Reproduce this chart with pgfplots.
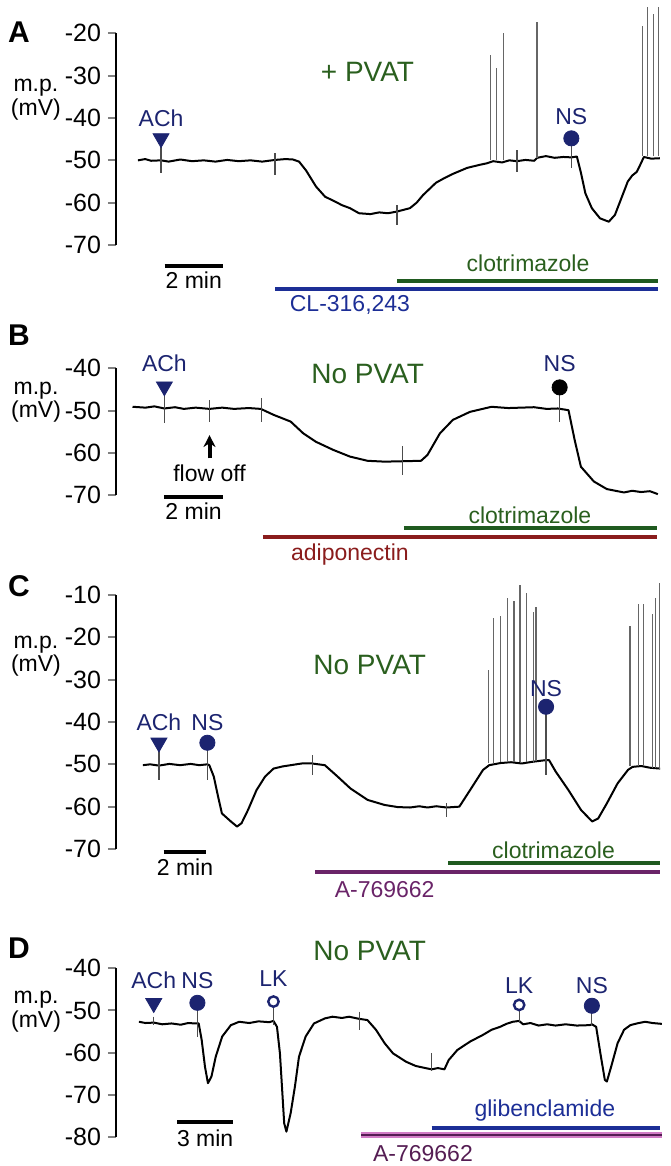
\documentclass[border=0pt]{standalone}
\usepackage{fontspec}
\setmainfont{Liberation Sans}
\usepackage{pgfplots}
\pgfplotsset{compat=1.18}
\usetikzlibrary{arrows.meta}
\definecolor{navy}{HTML}{1C2470}
\definecolor{txtgreen}{HTML}{2A5F1E}
\definecolor{bargreen}{HTML}{1F5A1F}
\definecolor{barblue}{HTML}{1C2E96}
\definecolor{barred}{HTML}{8A1C1C}
\definecolor{barpurple}{HTML}{6A2468}
\definecolor{barpink}{HTML}{D27CC6}
\newcommand\lab{\fontsize{11.5}{12}\selectfont}
\newcommand\ttl{\fontsize{14}{15}\selectfont}
\newcommand\pan{\fontsize{15}{16}\selectfont\bfseries}
\tikzset{mp/.style={font=\fontsize{11.5}{10.5}\selectfont, align=center}}
\pgfplotsset{
  trace/.style={scale only axis, width=273pt, xmin=0, clip=false,
    axis x line=none, axis y line=left, y axis line style={-, line width=1pt},
    ytick pos=left, tick align=outside, major tick length=4pt,
    ytick style={line width=1pt}, tick label style={font=\fontsize{12.5}{13}\selectfont},
    /pgf/number format/assume math mode=true, anchor=south west},
  tr/.style={black, line width=1pt, line join=round},
  sp/.style={black!60, line width=0.65pt, unbounded coords=jump},
  art/.style={black!70, line width=0.6pt, unbounded coords=jump},
  ach/.style={only marks, mark=triangle*, mark size=4.6pt, mark options={rotate=180, fill=navy, draw=navy}},
  ns/.style={only marks, mark=*, mark size=3.8pt, mark options={fill=navy, draw=navy}},
  lk/.style={only marks, mark=o, mark size=2.6pt, mark options={draw=navy, line width=1.2pt}},
}
\begin{document}
\begin{tikzpicture}
\useasboundingbox (0,0) rectangle (335pt,583pt);

% ---------- A ----------
\begin{axis}[trace, at={(58pt,460.5pt)}, height=105.8pt, xmax=18.67, ymin=-70, ymax=-20, ytick={-70,-60,...,-20}]
\addplot[tr] coordinates {(0.75,-50.0) (1.0,-49.7) (1.2,-50.1) (1.54,-50.0) (1.8,-50.3) (2.2,-49.8) (2.6,-50.2) (3.0,-50.0) (3.4,-50.3) (3.8,-49.9) (4.2,-50.2) (4.6,-50.0) (5.0,-50.3) (5.44,-49.9) (5.8,-49.7) (6.05,-49.8) (6.26,-50.3) (6.5,-52.4) (6.84,-56.2) (7.15,-58.6) (7.45,-59.6) (7.73,-60.6) (8.0,-61.3) (8.31,-62.5) (8.7,-62.7) (9.0,-62.3) (9.3,-62.5) (9.61,-62.1) (10.05,-61.3) (10.28,-60.0) (10.50,-58.2) (10.94,-55.3) (11.2,-54.3) (11.52,-53.2) (12.0,-51.8) (12.41,-51.1) (12.68,-50.7) (12.9,-50.2) (13.2,-50.5) (13.45,-50.0) (13.71,-50.2) (14.0,-49.9) (14.3,-50.1) (14.40,-49.4) (14.7,-49.0) (15.0,-49.4) (15.3,-49.2) (15.57,-49.3) (15.76,-49.1) (15.90,-53.0) (16.05,-57.8) (16.27,-61.3) (16.55,-63.7) (16.85,-64.5) (17.06,-62.9) (17.30,-58.6) (17.50,-55.0) (17.65,-53.6) (17.81,-52.7) (17.95,-50.7) (18.05,-49.2) (18.3,-49.6) (18.60,-49.5)};
\addplot[sp] coordinates {(12.81,-50) (12.81,-25.1) (12.81,nan) (13.02,-50) (13.02,-28.2) (13.02,nan) (13.26,-50) (13.26,-20) (13.26,nan) (14.40,-49.5) (14.40,-17.3) (14.40,nan) (18.01,-49) (18.01,-18.3) (18.01,nan) (18.18,-49) (18.18,-13.8) (18.18,nan) (18.37,-49) (18.37,-15.4) (18.37,nan) (18.55,-49) (18.55,-13.8)};
\addplot[art] coordinates {(1.54,-45.5) (1.54,-53) (1.54,nan) (5.44,-48.3) (5.44,-53.5) (5.44,nan) (9.61,-60.6) (9.61,-65.3) (9.61,nan) (13.71,-47.6) (13.71,-52.7) (13.71,nan) (15.57,-44.8) (15.57,-51.8)};
\addplot[ach] coordinates {(1.54,-44.8)};
\addplot[ns] coordinates {(15.57,-44.8)};
\addplot[bargreen, line width=2pt] coordinates {(9.61,-78.4) (18.53,-78.4)};
\addplot[barblue, line width=2pt] coordinates {(5.44,-80.3) (18.53,-80.3)};
\addplot[black, line width=2pt] coordinates {(1.66,-74.9) (3.66,-74.9)};
\node[font=\lab] at (axis cs:2.66,-78.3) {2 min};
\node[font=\lab, text=txtgreen] at (axis cs:14.09,-74.25) {clotrimazole};
\node[font=\lab, text=barblue] at (axis cs:8.0,-84.2) {CL-316,243};
\node[font=\ttl, text=txtgreen] at (axis cs:8.6,-29.1) {+ PVAT};
\node[font=\lab, text=navy] at (axis cs:1.54,-40) {ACh};
\node[font=\lab, text=navy] at (axis cs:15.57,-39.7) {NS};
\node[font=\pan] at (axis cs:-3.32,-19.7) {A};
\node[mp] at (axis cs:-2.74,-35.7) {m.p.\\(mV)};
\end{axis}

% ---------- B ----------
\begin{axis}[trace, at={(58pt,335.5pt)}, height=63.3pt, xmax=18.51, ymin=-70, ymax=-40, ytick={-70,-60,-50,-40}]
\addplot[tr] coordinates {(0.56,-49.1) (1.0,-49.3) (1.3,-49.0) (1.64,-49.5) (2.0,-49.2) (2.3,-49.6) (2.7,-49.3) (3.17,-49.6) (3.6,-49.3) (4.0,-49.6) (4.5,-49.4) (4.91,-49.6) (5.34,-51.0) (5.92,-52.6) (6.35,-55.4) (6.78,-57.4) (7.36,-59.3) (7.93,-60.9) (8.53,-61.9) (9.11,-62.1) (9.72,-62.0) (10.34,-61.9) (10.56,-60.5) (10.98,-55.4) (11.42,-52.2) (12.0,-50.3) (12.73,-49.1) (13.3,-49.4) (14.17,-49.2) (14.6,-49.6) (14.97,-49.5) (15.34,-49.9) (15.55,-57.0) (15.76,-63.3) (16.20,-66.8) (16.64,-68.6) (17.22,-69.4) (17.5,-69.0) (17.80,-69.3) (18.1,-69.1) (18.37,-69.8)};
\addplot[art] coordinates {(1.64,-46) (1.64,-53) (1.64,nan) (3.17,-47.5) (3.17,-52.6) (3.17,nan) (4.93,-47.1) (4.93,-52.6) (4.93,nan) (9.72,-58.5) (9.72,-65.3) (9.72,nan) (15.04,-46) (15.04,-52.6)};
\addplot[ach] coordinates {(1.64,-44.3)};
\addplot[only marks, mark=*, mark size=3.8pt, black] coordinates {(15.04,-44.5)};
\draw[-{Stealth[length=6pt,width=6pt]}, line width=2pt] (axis cs:3.17,-61.3) -- (axis cs:3.17,-55.8);
\node[font=\lab] at (axis cs:3.17,-64.8) {flow off};
\addplot[bargreen, line width=2pt] coordinates {(9.76,-77.9) (18.34,-77.9)};
\addplot[barred, line width=2pt] coordinates {(4.98,-79.9) (18.34,-79.9)};
\addplot[black, line width=2pt] coordinates {(1.62,-70.4) (3.63,-70.4)};
\node[font=\lab] at (axis cs:2.63,-73.8) {2 min};
\node[font=\lab, text=txtgreen] at (axis cs:14.03,-74.7) {clotrimazole};
\node[font=\lab, text=barred] at (axis cs:7.93,-84.2) {adiponectin};
\node[font=\ttl, text=txtgreen] at (axis cs:8.53,-41.3) {No PVAT};
\node[font=\lab, text=navy] at (axis cs:1.64,-38.8) {ACh};
\node[font=\lab, text=navy] at (axis cs:15.04,-38.8) {NS};
\node[font=\pan] at (axis cs:-3.29,-32.1) {B};
\node[mp] at (axis cs:-2.71,-48.0) {m.p.\\(mV)};
\end{axis}

% ---------- C ----------
\begin{axis}[trace, at={(58pt,158.5pt)}, height=127pt, xmax=25.57, ymin=-70, ymax=-10, ytick={-70,-60,...,-10}]
\addplot[tr] coordinates {(1.26,-50.2) (1.6,-50.0) (2.01,-50.3) (2.5,-49.9) (3.0,-50.2) (3.5,-49.9) (3.9,-50.2) (4.28,-50.0) (4.37,-50.2) (4.58,-52.9) (4.78,-57.6) (4.96,-61.6) (5.38,-63.5) (5.67,-64.7) (5.88,-63.9) (6.18,-60.8) (6.58,-56.1) (6.98,-52.9) (7.38,-51.0) (7.8,-50.5) (8.18,-50.2) (8.7,-49.8) (9.18,-49.8) (9.78,-50.2) (10.38,-52.9) (10.98,-55.7) (11.78,-58.4) (12.58,-59.6) (13.2,-60.1) (13.77,-60.2) (14.2,-59.9) (14.59,-60.2) (15.0,-59.9) (15.48,-60.2) (16.08,-60.0) (16.58,-56.1) (17.19,-51.3) (17.48,-50.2) (18.0,-49.7) (18.5,-49.5) (19.0,-49.8) (19.5,-49.4) (20.14,-49.0) (20.28,-49.0) (20.59,-51.7) (21.19,-56.1) (21.78,-60.8) (22.30,-63.5) (22.58,-62.8) (22.99,-59.2) (23.49,-54.5) (23.98,-51.3) (24.19,-50.6) (24.6,-50.4) (25.0,-50.8) (25.48,-51.0)};
\addplot[sp] coordinates {(17.44,-49.8) (17.44,-27.7) (17.44,nan) (17.67,-49.6) (17.67,-15.5) (17.67,nan) (18.02,-49.5) (18.02,-14.9) (18.02,nan) (18.35,-49.5) (18.35,-10.8) (18.35,nan) (18.64,-49.5) (18.64,-11.4) (18.64,nan) (18.92,-49.4) (18.92,-7.7) (18.92,nan) (19.24,-49.4) (19.24,-9.5) (19.24,nan) (19.55,-49.4) (19.55,-14.0) (19.55,nan) (19.67,-49.3) (19.67,-12.8) (19.67,nan) (24.07,-50.5) (24.07,-17.3) (24.07,nan) (24.46,-50.5) (24.46,-12.1) (24.46,nan) (24.70,-50.5) (24.70,-12.1) (24.70,nan) (25.14,-50.8) (25.14,-14.6) (25.14,nan) (25.27,-50.8) (25.27,-10.6) (25.27,nan) (25.45,-51) (25.45,-7.2)};
\addplot[art] coordinates {(2.01,-45.5) (2.01,-53.7) (2.01,nan) (4.28,-45.5) (4.28,-53.7) (4.28,nan) (9.22,-47.8) (9.22,-52.5) (9.22,nan) (15.48,-59.2) (15.48,-62.4) (15.48,nan) (20.14,-37) (20.14,-52.5)};
\addplot[ach] coordinates {(2.01,-44.9)};
\addplot[ns] coordinates {(4.28,-44.9) (20.14,-36.4)};
\addplot[bargreen, line width=2pt] coordinates {(15.55,-73.4) (25.48,-73.4)};
\addplot[barpurple, line width=2pt] coordinates {(9.32,-75.4) (25.48,-75.4)};
\addplot[black, line width=2pt] coordinates {(2.23,-70.6) (4.23,-70.6)};
\node[font=\lab] at (axis cs:3.23,-74.2) {2 min};
\node[font=\lab, text=txtgreen] at (axis cs:20.49,-70.2) {clotrimazole};
\node[font=\lab, text=barpurple] at (axis cs:12.58,-79.7) {A-769662};
\node[font=\ttl, text=txtgreen] at (axis cs:11.88,-26.5) {No PVAT};
\node[font=\lab, text=navy] at (axis cs:2.01,-40.1) {ACh};
\node[font=\lab, text=navy] at (axis cs:4.28,-40.1) {NS};
\node[font=\lab, text=navy] at (axis cs:20.14,-32.0) {NS};
\node[font=\pan] at (axis cs:-4.54,-8.0) {C};
\node[mp] at (axis cs:-3.75,-24.5) {m.p.\\(mV)};
\end{axis}

% ---------- D ----------
\begin{axis}[trace, at={(58pt,14.65pt)}, height=84.2pt, xmax=29.51, ymin=-80, ymax=-40, ytick={-80,-70,...,-40}]
\addplot[tr] coordinates {(1.24,-52.7) (1.6,-53.0) (2.04,-52.9) (2.5,-53.3) (3.0,-53.1) (3.5,-53.4) (3.9,-53.0) (4.29,-53.1) (4.47,-53.1) (4.63,-57.0) (4.81,-63.4) (4.97,-67.3) (5.16,-65.7) (5.39,-61.0) (5.74,-56.2) (6.21,-53.5) (6.66,-52.7) (7.2,-53.0) (7.7,-52.6) (8.28,-52.8) (8.51,-52.5) (8.70,-53.9) (8.86,-60.2) (8.97,-68.1) (9.09,-76.8) (9.21,-78.8) (9.44,-74.4) (9.67,-68.1) (9.89,-61.0) (10.25,-56.2) (10.70,-53.1) (11.29,-51.9) (11.7,-51.5) (12.21,-51.8) (12.6,-51.5) (13.02,-51.9) (13.14,-52.0) (13.59,-52.3) (14.05,-54.6) (14.52,-57.8) (14.97,-60.2) (15.68,-62.2) (16.2,-63.2) (16.83,-63.8) (17.06,-64.0) (17.4,-63.7) (17.75,-64.0) (17.98,-61.8) (18.45,-59.4) (19.14,-57.4) (19.84,-55.8) (20.3,-54.6) (20.76,-53.9) (21.1,-53.2) (21.45,-52.7) (21.79,-52.5) (22.0,-53.3) (22.4,-53.0) (22.84,-53.6) (23.3,-53.3) (23.76,-53.6) (24.3,-53.3) (24.9,-53.6) (25.61,-53.5) (25.72,-53.3) (25.95,-53.9) (26.18,-60.2) (26.42,-66.5) (26.53,-66.9) (26.76,-63.4) (27.11,-57.8) (27.46,-54.6) (27.8,-53.5) (28.15,-53.1) (28.6,-52.7) (29.0,-53.0) (29.50,-53.2)};
\addplot[art] coordinates {(2.04,-51.5) (2.04,-53.5) (2.04,nan) (4.40,-49.5) (4.40,-56.2) (4.40,nan) (8.51,-49.2) (8.51,-53.5) (8.51,nan) (13.14,-50.3) (13.14,-54.6) (13.14,nan) (17.06,-60.2) (17.06,-64.5) (17.06,nan) (21.79,-49.8) (21.79,-53) (21.79,nan) (25.72,-50) (25.72,-53.5)};
\addplot[ach] coordinates {(2.04,-48.3)};
\addplot[ns] coordinates {(4.40,-48.2) (25.72,-48.9)};
\addplot[lk] coordinates {(8.51,-47.9) (21.79,-48.7)};
\addplot[barblue, line width=2pt] coordinates {(17.06,-77.9) (29.41,-77.9)};
\addplot[barpink, line width=2.6pt] coordinates {(13.24,-79.6) (29.49,-79.6)};
\addplot[barpurple!80!black, line width=1.4pt] coordinates {(13.24,-79.6) (29.49,-79.6)};
\addplot[black, line width=2pt] coordinates {(3.32,-76.6) (6.32,-76.6)};
\node[font=\lab] at (axis cs:4.82,-80.4) {3 min};
\node[font=\lab, text=barblue] at (axis cs:23.18,-73.7) {glibenclamide};
\node[font=\lab, text=barpurple!80!black] at (axis cs:16.59,-83.9) {A-769662};
\node[font=\ttl, text=txtgreen] at (axis cs:13.71,-36) {No PVAT};
\node[font=\lab, text=navy] at (axis cs:2.04,-42.8) {ACh};
\node[font=\lab, text=navy] at (axis cs:4.40,-42.8) {NS};
\node[font=\lab, text=navy] at (axis cs:8.51,-42.4) {LK};
\node[font=\lab, text=navy] at (axis cs:21.79,-44) {LK};
\node[font=\lab, text=navy] at (axis cs:25.72,-44) {NS};
\node[font=\pan] at (axis cs:-5.24,-35.2) {D};
\node[mp] at (axis cs:-4.32,-50.3) {m.p.\\(mV)};
\end{axis}
\end{tikzpicture}
\end{document}
